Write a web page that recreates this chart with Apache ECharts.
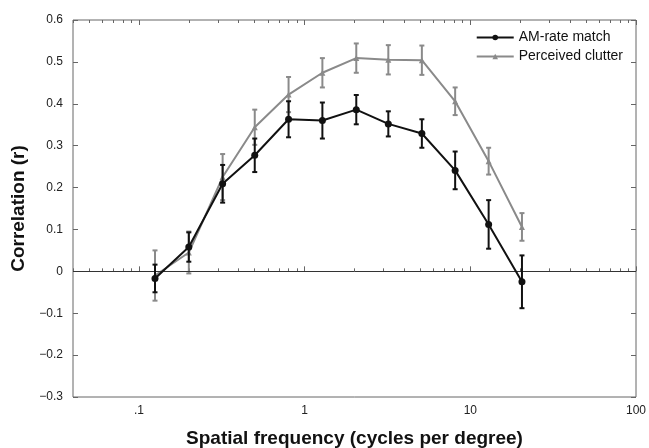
<!DOCTYPE html>
<html>
<head>
<meta charset="utf-8">
<script src="https://cdn.jsdelivr.net/npm/echarts@6/dist/echarts.min.js"></script>
<style>
  html, body { margin: 0; padding: 0; background: #fff; }
  #chart { width: 649px; height: 448px; }
</style>
</head>
<body>
<div id="chart"></div>
<script>
// spatial frequency (cycles per degree)
const freqs = [0.125, 0.2, 0.32, 0.5, 0.8, 1.28, 2.05, 3.2, 5.1, 8.1, 12.9, 20.5]

// AM-rate match: mean correlation and error (+/-)
const amMean = [-0.017, 0.058, 0.209, 0.277, 0.363, 0.36, 0.386, 0.352, 0.329, 0.241, 0.112, -0.025]
const amErr = [0.033, 0.035, 0.045, 0.04, 0.043, 0.043, 0.035, 0.03, 0.034, 0.045, 0.058, 0.063]

// Perceived clutter
const clMean = [-0.01, 0.045, 0.225, 0.344, 0.422, 0.474, 0.509, 0.505, 0.504, 0.406, 0.263, 0.106]
const clErr = [0.06, 0.05, 0.055, 0.042, 0.042, 0.035, 0.035, 0.035, 0.035, 0.033, 0.032, 0.033]

const xMajor = [0.1, 1, 10, 100]
const xMinor = [0.04, 0.05, 0.06, 0.07, 0.08, 0.09,
  0.2, 0.3, 0.4, 0.5, 0.6, 0.7, 0.8, 0.9,
  2, 3, 4, 5, 6, 7, 8, 9,
  20, 30, 40, 50, 60, 70, 80, 90]

const FONT = 'Liberation Sans, Arial, sans-serif'
const BLACK = '#111111'
const GREY = '#8a8a8a'
const AXIS = '#666666'

const chart = echarts.init(document.getElementById('chart'))

const pairs = (ys) => freqs.map((f, i) => [f, ys[i]])
const bars = (ys, es) => freqs.map((f, i) => [f, ys[i] - es[i], ys[i] + es[i]])

const errorBars = (name, data, color, z) => ({
  name: name,
  type: 'custom',
  data: data,
  z: z,
  encode: { x: 0, y: [1, 2] },
  renderItem: (params, api) => {
    const lo = api.coord([api.value(0), api.value(1)])
    const hi = api.coord([api.value(0), api.value(2)])
    const w = 2.5
    const style = { stroke: color, lineWidth: 2 }
    return {
      type: 'group',
      children: [
        { type: 'line', shape: { x1: lo[0], y1: lo[1], x2: hi[0], y2: hi[1] }, style },
        { type: 'line', shape: { x1: lo[0] - w, y1: lo[1], x2: lo[0] + w, y2: lo[1] }, style },
        { type: 'line', shape: { x1: hi[0] - w, y1: hi[1], x2: hi[0] + w, y2: hi[1] }, style }
      ]
    }
  }
})

const xBase = {
  type: 'log',
  min: 0.04,
  max: 100,
  logBase: 10,
  gridIndex: 0,
  splitLine: { show: false },
  axisLine: { show: false }
}

const option = {
  animation: false,
  grid: {
    left: 73, top: 20, right: 13, bottom: 51,
    outerBoundsMode: 'none',
    containLabel: false,
    show: true, borderColor: AXIS, borderWidth: 1
  },
  legend: {
    orient: 'vertical',
    right: 21,
    top: 25,
    itemWidth: 37,
    itemHeight: 7,
    itemGap: 4,
    textStyle: { fontFamily: FONT, fontSize: 14, color: BLACK, lineHeight: 15 },
    data: ['AM-rate match', 'Perceived clutter']
  },
  xAxis: [
    Object.assign({}, xBase, {
      position: 'bottom',
      name: 'Spatial frequency (cycles per degree)',
      nameLocation: 'middle',
      nameGap: 32,
      nameTextStyle: { fontFamily: FONT, fontSize: 19, fontWeight: 'bold', color: BLACK },
      axisTick: { show: true, inside: true, length: 5, lineStyle: { color: AXIS }, customValues: xMajor },
      axisLabel: {
        show: true, margin: 8, fontFamily: FONT, fontSize: 12, color: '#222',
        customValues: xMajor,
        formatter: (v) => (Math.abs(v - 0.1) < 1e-9) ? '.1' : String(Math.round(v))
      }
    }),
    Object.assign({}, xBase, {
      position: 'bottom',
      axisTick: { show: true, inside: true, length: 3, lineStyle: { color: AXIS }, customValues: xMinor },
      axisLabel: { show: false }
    }),
    Object.assign({}, xBase, {
      position: 'top',
      axisTick: { show: true, inside: true, length: 5, lineStyle: { color: AXIS }, customValues: xMajor },
      axisLabel: { show: false }
    }),
    Object.assign({}, xBase, {
      position: 'top',
      axisTick: { show: true, inside: true, length: 3, lineStyle: { color: AXIS }, customValues: xMinor },
      axisLabel: { show: false }
    })
  ],
  yAxis: [
    {
      type: 'value',
      position: 'left',
      min: -0.3,
      max: 0.6,
      interval: 0.1,
      name: 'Correlation (r)',
      nameLocation: 'middle',
      nameGap: 43,
      nameTextStyle: { fontFamily: FONT, fontSize: 19, fontWeight: 'bold', color: BLACK },
      splitLine: { show: false },
      axisLine: { show: false },
      axisTick: { show: true, inside: true, length: 5, lineStyle: { color: AXIS } },
      axisLabel: {
        margin: 10, fontFamily: FONT, fontSize: 12, color: '#222',
        formatter: (v) => {
          const r = Math.round(v * 10) / 10
          if (r === 0) return '0'
          return r < 0 ? '\u2212' + Math.abs(r).toFixed(1) : r.toFixed(1)
        }
      }
    },
    {
      type: 'value',
      position: 'right',
      min: -0.3,
      max: 0.6,
      interval: 0.1,
      splitLine: { show: false },
      axisLine: { show: false },
      axisTick: { show: true, inside: true, length: 5, lineStyle: { color: AXIS } },
      axisLabel: { show: false }
    }
  ],
  series: [
    errorBars('clutterErr', bars(clMean, clErr), GREY, 3),
    {
      name: 'Perceived clutter',
      type: 'line',
      data: pairs(clMean),
      z: 4,
      symbol: 'triangle',
      symbolSize: 6,
      showSymbol: true,
      lineStyle: { color: GREY, width: 2 },
      itemStyle: { color: GREY }
    },
    errorBars('amErr', bars(amMean, amErr), BLACK, 5),
    {
      name: 'AM-rate match',
      type: 'line',
      data: pairs(amMean),
      z: 6,
      symbol: 'circle',
      symbolSize: 7,
      showSymbol: true,
      lineStyle: { color: BLACK, width: 2 },
      itemStyle: { color: BLACK },
      markLine: {
        silent: true,
        symbol: 'none',
        label: { show: false },
        lineStyle: { color: '#333', width: 1, type: 'solid' },
        data: [{ yAxis: 0 }]
      }
    }
  ]
}

chart.setOption(option)
</script>
</body>
</html>
